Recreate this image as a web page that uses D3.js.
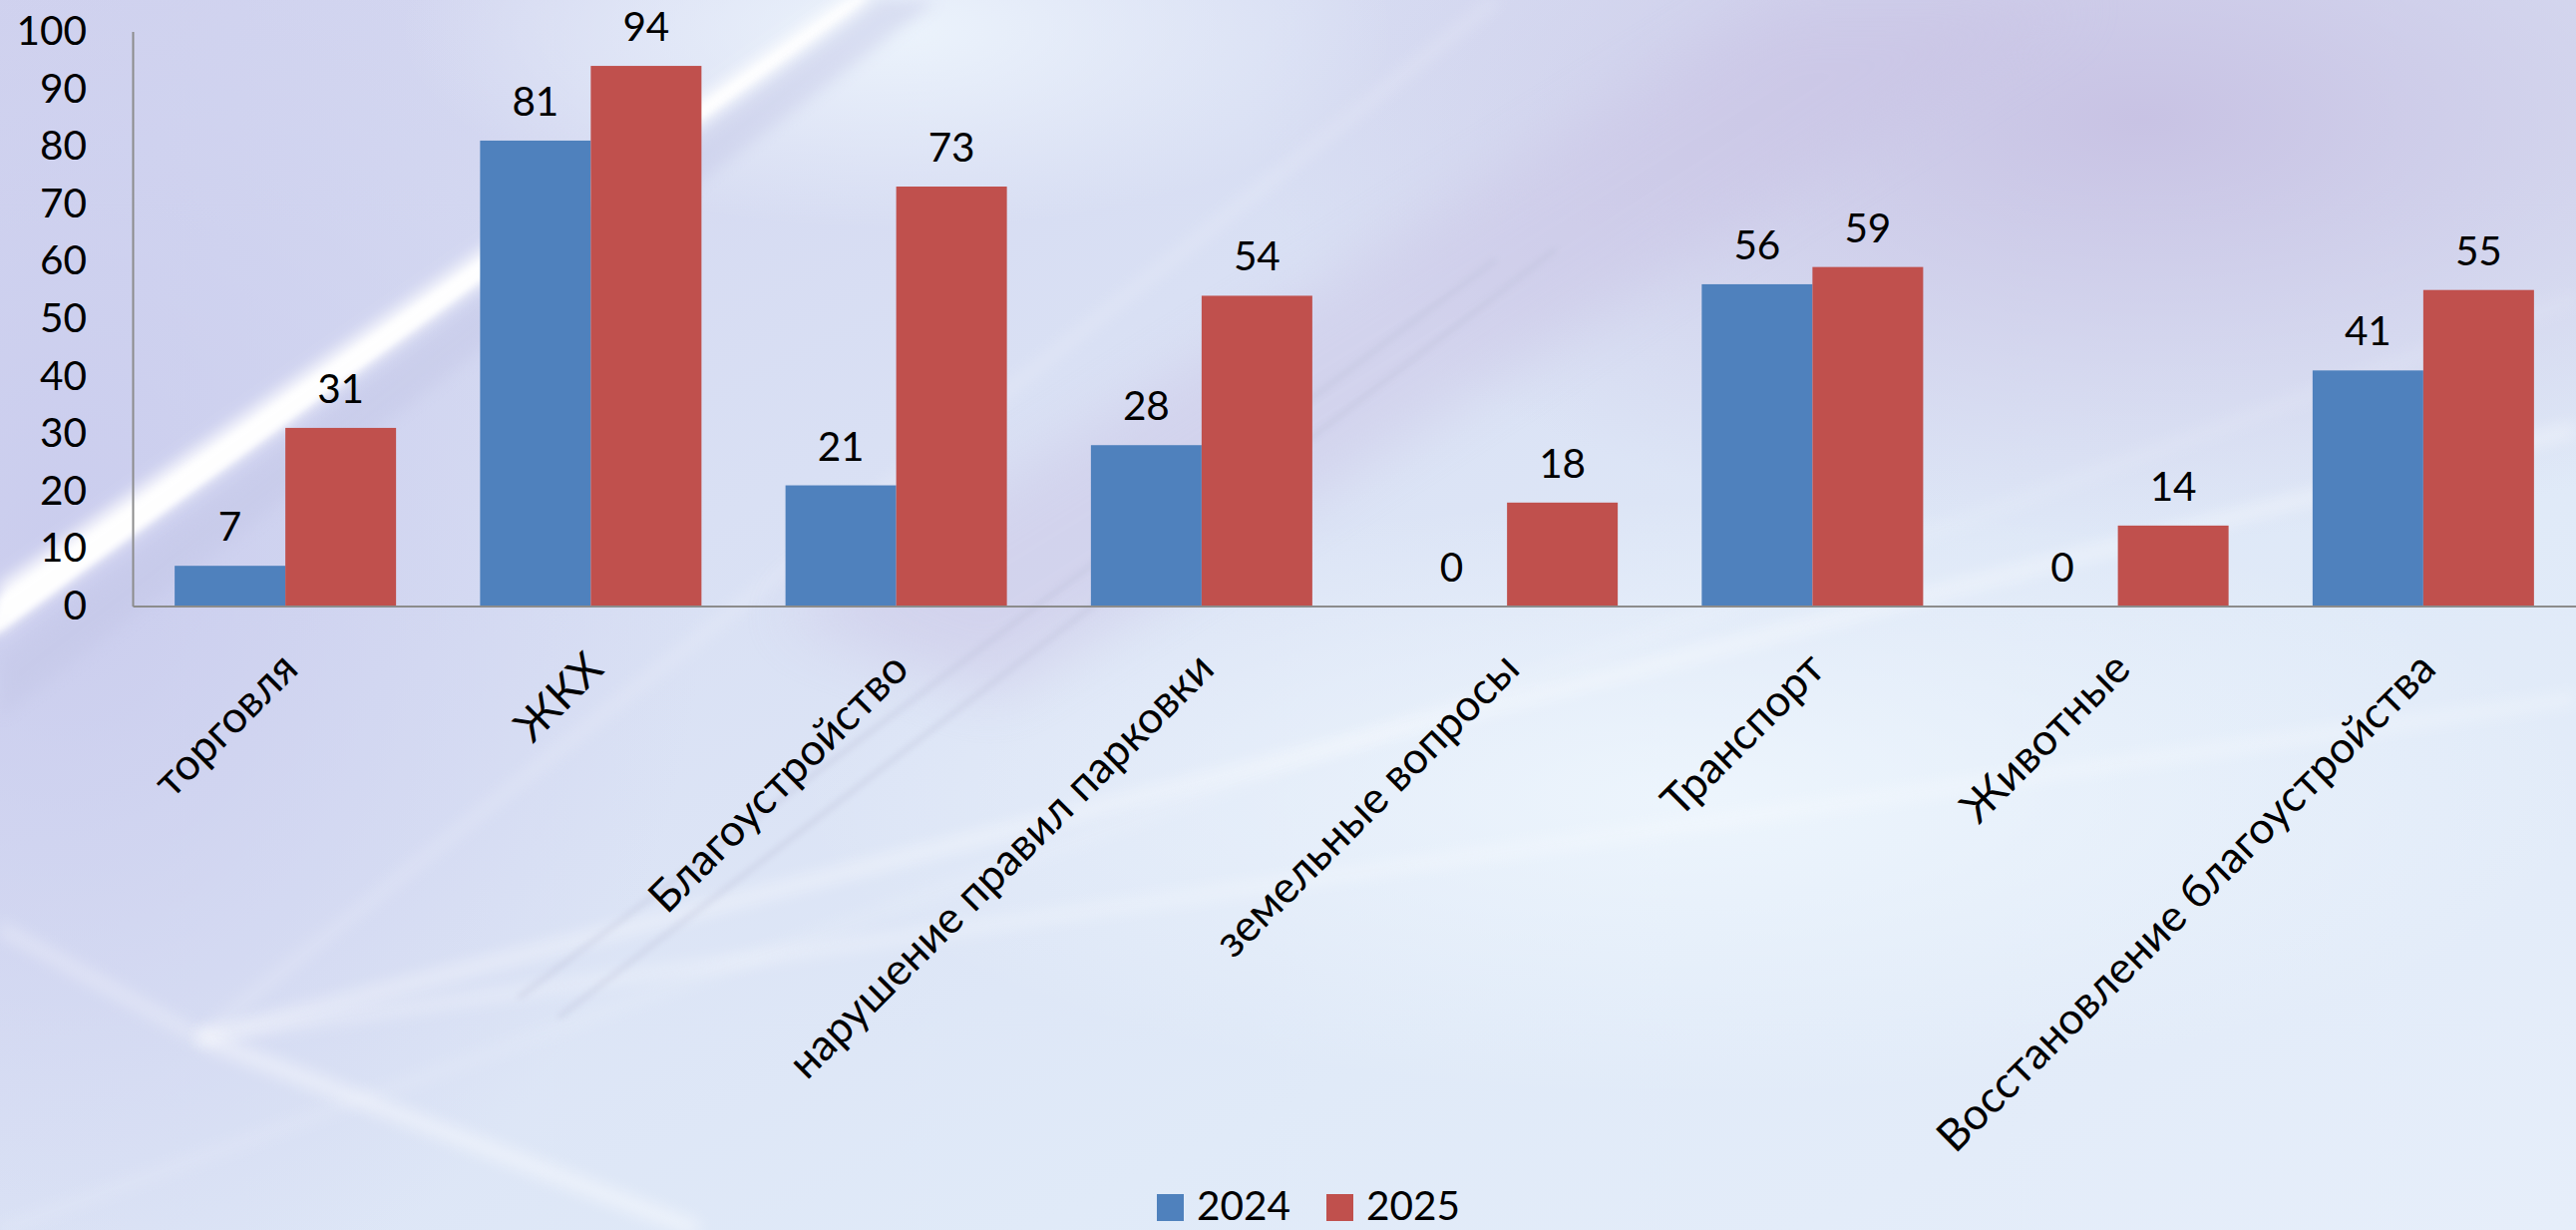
<!DOCTYPE html>
<html>
<head>
<meta charset="utf-8">
<script src="https://cdn.jsdelivr.net/npm/d3@7"></script>
<style>
  html, body { margin: 0; padding: 0; background: #dde5f5; }
  svg { display: block; }
  text { font-family: Lato, "Open Sans", "Noto Sans", sans-serif; fill: #000; }
</style>
</head>
<body>
<svg id="chart" width="2583" height="1233"></svg>
<script>
// Appeal topics, counts per year
const categories = [
  "торговля", "ЖКХ", "Благоустройство", "нарушение правил парковки",
  "земельные вопросы", "Транспорт", "Животные", "Восстановление благоустройства"
];
const seriesNames = ["2024", "2025"];
const values2024 = [7, 81, 21, 28, 0, 56, 0, 41];
const values2025 = [31, 94, 73, 54, 18, 59, 14, 55];
const yTicks = [0, 10, 20, 30, 40, 50, 60, 70, 80, 90, 100];
const colors = ["#4F81BD", "#C0504D"];

const W = 2583, H = 1233;
const svg = d3.select("#chart");
const defs = svg.append("defs");

// ---- decorative backdrop ----
const base = defs.append("linearGradient").attr("id", "bg").attr("x1", 0).attr("y1", 0).attr("x2", 1).attr("y2", 1);
base.append("stop").attr("offset", 0).attr("stop-color", "#d2d4ef");
base.append("stop").attr("offset", 0.35).attr("stop-color", "#d9e0f4");
base.append("stop").attr("offset", 0.7).attr("stop-color", "#e0eaf8");
base.append("stop").attr("offset", 1).attr("stop-color", "#e6eefa");

const purple = defs.append("radialGradient").attr("id", "purple");
purple.append("stop").attr("offset", 0).attr("stop-color", "#c6bfe2").attr("stop-opacity", 0.9);
purple.append("stop").attr("offset", 1).attr("stop-color", "#c6bfe2").attr("stop-opacity", 0);

const lav = defs.append("radialGradient").attr("id", "lav");
lav.append("stop").attr("offset", 0).attr("stop-color", "#c9cbed").attr("stop-opacity", 0.9);
lav.append("stop").attr("offset", 1).attr("stop-color", "#c9cbed").attr("stop-opacity", 0);

const light = defs.append("radialGradient").attr("id", "light");
light.append("stop").attr("offset", 0).attr("stop-color", "#eef6fd").attr("stop-opacity", 0.9);
light.append("stop").attr("offset", 1).attr("stop-color", "#eef6fd").attr("stop-opacity", 0);

defs.append("filter").attr("id", "blur8").attr("x", "-50%").attr("y", "-50%").attr("width", "200%").attr("height", "200%")
  .append("feGaussianBlur").attr("stdDeviation", 8);
defs.append("filter").attr("id", "blur3").attr("x", "-50%").attr("y", "-50%").attr("width", "200%").attr("height", "200%")
  .append("feGaussianBlur").attr("stdDeviation", 3);
defs.append("filter").attr("id", "blur30").attr("x", "-50%").attr("y", "-50%").attr("width", "200%").attr("height", "200%")
  .append("feGaussianBlur").attr("stdDeviation", 30);

const bg = svg.append("g");
bg.append("rect").attr("width", W).attr("height", H).attr("fill", "url(#bg)");
bg.append("ellipse").attr("cx", 2150).attr("cy", 120).attr("rx", 900).attr("ry", 420).attr("fill", "url(#purple)");
bg.append("ellipse").attr("cx", 60).attr("cy", 550).attr("rx", 650).attr("ry", 800).attr("fill", "url(#lav)");
bg.append("ellipse").attr("cx", 1700).attr("cy", 800).attr("rx", 900).attr("ry", 300).attr("fill", "url(#light)");
bg.append("ellipse").attr("cx", 900).attr("cy", 30).attr("rx", 500).attr("ry", 200).attr("fill", "url(#light)");

// soft purple diagonal band
bg.append("path").attr("d", "M780,620 L1780,0 L2100,0 L1000,700 Z")
  .attr("fill", "#c9c2e4").attr("opacity", 0.45).attr("filter", "url(#blur30)");

// bright light streak across the upper left
bg.append("path").attr("d", "M-10,640 L0,586 L850,-4 L880,-4 Z")
  .attr("fill", "#ffffff").attr("opacity", 0.95).attr("filter", "url(#blur8)");
bg.append("path").attr("d", "M-10,640 L0,600 L860,-4 L872,-4 Z")
  .attr("fill", "#ffffff").attr("opacity", 0.9).attr("filter", "url(#blur3)");
bg.append("path").attr("d", "M0,660 L880,0 L940,0 L0,720 Z")
  .attr("fill", "#c3c6e6").attr("opacity", 0.45).attr("filter", "url(#blur8)");

// faint rays fanning from the lower left
const rays = [
  [[200, 1040], [2583, 430], 10, 0.5],
  [[200, 1040], [2583, 700], 8, 0.45],
  [[200, 1040], [1500, 0], 6, 0.35],
  [[0, 1233], [2583, 300], 5, 0.3],
  [[200, 1040], [0, 930], 10, 0.4],
  [[200, 1040], [700, 1233], 14, 0.5]
];
rays.forEach(([a, b, w, o]) => {
  bg.append("line").attr("x1", a[0]).attr("y1", a[1]).attr("x2", b[0]).attr("y2", b[1])
    .attr("stroke", "#ffffff").attr("stroke-width", w).attr("opacity", o).attr("filter", "url(#blur8)");
});
// grey shadow lines near the middle
[[[520, 1000], [1500, 260]], [[560, 1020], [1560, 250]]].forEach(([a, b]) => {
  bg.append("line").attr("x1", a[0]).attr("y1", a[1]).attr("x2", b[0]).attr("y2", b[1])
    .attr("stroke", "#b9bdd6").attr("stroke-width", 4).attr("opacity", 0.45).attr("filter", "url(#blur3)");
});

// ---- chart ----
const plotLeft = 133, plotRight = 2583, plotTop = 31.5, plotBottom = 607.5;
const fontSize = 40.5;
const catFontSize = 44;

const x = d3.scaleBand().domain(categories).range([plotLeft, plotRight]).padding(0);
const xs = d3.scaleBand().domain(seriesNames).range([0, x.bandwidth()]).paddingInner(0).paddingOuter(0.3795);
const y = d3.scaleLinear().domain([0, 100]).range([plotBottom, plotTop]);

const rows = categories.map((c, i) => ({ cat: c, vals: [values2024[i], values2025[i]] }));

// bars
const groups = svg.append("g").selectAll("g").data(rows).join("g")
  .attr("transform", d => `translate(${x(d.cat)},0)`);
groups.selectAll("rect").data(d => d.vals.map((v, k) => ({ v, k })))
  .join("rect")
  .attr("x", d => xs(seriesNames[d.k]))
  .attr("width", xs.bandwidth())
  .attr("y", d => y(d.v))
  .attr("height", d => y(0) - y(d.v))
  .attr("fill", d => colors[d.k]);

// value labels
groups.selectAll("text").data(d => d.vals.map((v, k) => ({ v, k })))
  .join("text")
  .attr("x", d => xs(seriesNames[d.k]) + xs.bandwidth() / 2)
  .attr("y", d => y(d.v) - 25)
  .attr("text-anchor", "middle")
  .style("font-size", fontSize + "px")
  .text(d => d.v);

// y axis
const yAxis = svg.append("g").attr("transform", `translate(${plotLeft},0)`)
  .call(d3.axisLeft(y).tickValues(yTicks).tickSize(0).tickSizeOuter(0).tickPadding(46));
yAxis.select(".domain").attr("stroke", "#8c8c8c").attr("stroke-width", 2);
yAxis.selectAll("text").style("font-size", fontSize + "px").attr("fill", "#000")
  .attr("font-family", null);

// x axis
const xAxis = svg.append("g").attr("transform", `translate(0,${plotBottom})`)
  .call(d3.axisBottom(x).tickSize(0).tickSizeOuter(0).tickFormat(""));
xAxis.select(".domain").attr("stroke", "#8c8c8c").attr("stroke-width", 2);

// rotated category labels
svg.append("g").selectAll("text").data(categories).join("text")
  .attr("transform", d => `translate(${x(d) + x.bandwidth() / 2 + 4},662) rotate(-45)`)
  .attr("text-anchor", "end")
  .attr("dy", "0.35em")
  .style("font-size", catFontSize + "px")
  .text(d => d);

// legend
const legendX = [1160, 1330];
const legend = svg.append("g").selectAll("g").data(seriesNames).join("g")
  .attr("transform", (d, i) => `translate(${legendX[i]},1197)`);
legend.append("rect").attr("width", 27).attr("height", 27).attr("fill", (d, i) => colors[i]);
legend.append("text").attr("x", 40).attr("y", 26).style("font-size", fontSize + "px").text(d => d);
</script>
</body>
</html>
